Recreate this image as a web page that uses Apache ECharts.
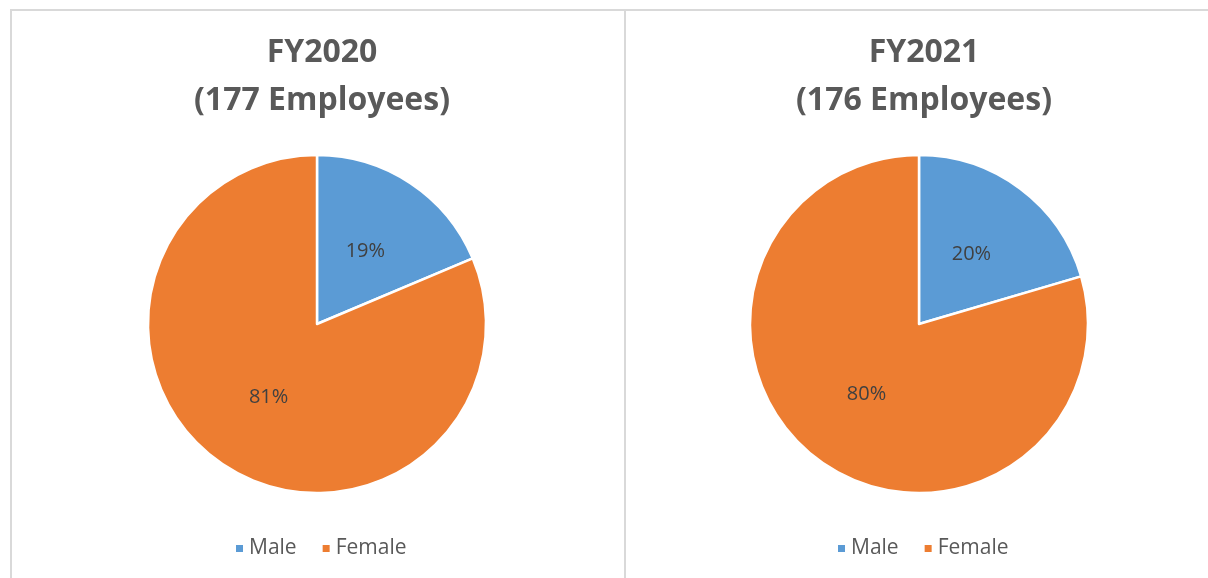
<!DOCTYPE html>
<html>
<head>
<meta charset="utf-8">
<script src="https://cdn.jsdelivr.net/npm/echarts@6/dist/echarts.min.js"></script>
<style>
  html, body { margin: 0; padding: 0; background: #fff; }
  #chart { width: 1208px; height: 578px; }
</style>
</head>
<body>
<div id="chart"></div>
<script>
// employee headcount by gender
var categories = ['Male', 'Female'];
var fy2020 = [33, 144];
var fy2021 = [36, 140];
var titles = ['FY2020\n(177 Employees)', 'FY2021\n(176 Employees)'];

var colors = ['#5b9bd5', '#ed7d31'];
var fontFamily = '"Open Sans", "Noto Sans", sans-serif';

function toData(vals) {
  return categories.map(function (name, i) {
    return { name: name, value: vals[i] };
  });
}

function pieSeries(vals, cx) {
  return {
    type: 'pie',
    center: [cx, 324],
    radius: 169,
    startAngle: 90,
    clockwise: true,
    percentPrecision: 0,
    label: {
      show: true,
      position: 'inside',
      formatter: '{d}%',
      color: '#404040',
      fontSize: 20,
      fontFamily: fontFamily
    },
    labelLine: { show: false },
    itemStyle: { borderColor: '#fff', borderWidth: 2.5 },
    emphasis: { scale: false },
    data: toData(vals)
  };
}

function legendAt(cx) {
  return {
    data: categories,
    left: cx,
    top: 533,
    icon: 'rect',
    itemWidth: 9,
    itemHeight: 9,
    itemGap: 24,
    textStyle: { color: '#595959', fontSize: 21, fontFamily: fontFamily }
  };
}

function titleAt(text, cx) {
  return {
    text: text, left: cx, top: 24, textAlign: 'center',
    textStyle: { color: '#595959', fontSize: 32, fontWeight: 'bold', lineHeight: 48, fontFamily: fontFamily }
  };
}

var chart = echarts.init(document.getElementById('chart'));
chart.setOption({
  color: colors,
  animation: false,
  title: [titleAt(titles[0], 317), titleAt(titles[1], 919)],
  legend: [legendAt(229), legendAt(831)],
  graphic: [
    { type: 'line', shape: { x1: 10, y1: 10, x2: 1208, y2: 10 }, style: { stroke: '#d9d9d9', lineWidth: 2 } },
    { type: 'line', shape: { x1: 11, y1: 10, x2: 11, y2: 578 }, style: { stroke: '#d9d9d9', lineWidth: 2 } },
    { type: 'line', shape: { x1: 625, y1: 10, x2: 625, y2: 578 }, style: { stroke: '#d9d9d9', lineWidth: 2 } }
  ],
  series: [pieSeries(fy2020, 317), pieSeries(fy2021, 919)]
});
</script>
</body>
</html>
